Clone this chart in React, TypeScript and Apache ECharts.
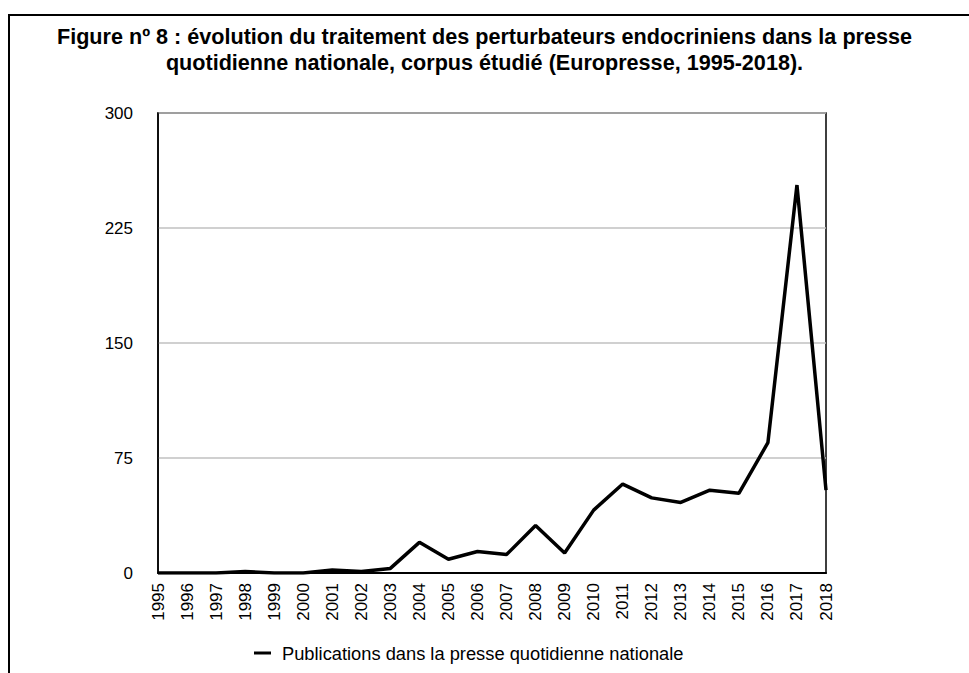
import React, { useEffect, useRef } from "react";
import * as echarts from "echarts";

const years = ["1995","1996","1997","1998","1999","2000","2001","2002","2003","2004","2005","2006","2007","2008","2009","2010","2011","2012","2013","2014","2015","2016","2017","2018"];
const publications = [0, 0, 0, 1, 0, 0, 2, 1, 3, 20, 9, 14, 12, 31, 13, 41, 58, 49, 46, 54, 52, 85, 253, 54];
const yTicks = [0, 75, 150, 225, 300];
const seriesName = "Publications dans la presse quotidienne nationale";
const titleLines = [
  "Figure nº 8 : évolution du traitement des perturbateurs endocriniens dans la presse",
  "quotidienne nationale, corpus étudié (Europresse, 1995-2018).",
];

const FONT = "'Liberation Sans', Arial, Helvetica, sans-serif";

export default function App() {
  const ref = useRef<HTMLDivElement>(null);
  useEffect(() => {
    if (!ref.current) return;
    const chart = echarts.init(ref.current, null, { renderer: "svg" });
    chart.setOption({
      animation: false,
      backgroundColor: "#fff",
      textStyle: { fontFamily: FONT },
      title: {
        text: titleLines.join("\n"),
        left: "center",
        top: 18,
        textStyle: { fontFamily: FONT, fontSize: 21.6, fontWeight: "bold", color: "#000", lineHeight: 26 },
      },
      graphic: [
        { type: "line", shape: { x1: 8, y1: 15, x2: 969, y2: 15 }, style: { stroke: "#000", lineWidth: 2 } },
        { type: "line", shape: { x1: 9, y1: 15, x2: 9, y2: 673 }, style: { stroke: "#000", lineWidth: 2 } },
      ],
      grid: { left: 158, right: 143, top: 113, bottom: 100, show: true, borderColor: "#000", borderWidth: 1.5 },
      legend: {
        left: 249,
        top: 639,
        icon: "rect",
        itemWidth: 17,
        itemHeight: 3,
        itemGap: 10,
        textStyle: { fontFamily: FONT, fontSize: 18.3, color: "#000", padding: [0, 0, 0, 6] },
        data: [seriesName],
      },
      xAxis: {
        type: "category",
        data: years,
        boundaryGap: false,
        axisLine: { show: true, lineStyle: { color: "#000", width: 2 } },
        axisTick: { show: false },
        axisLabel: { rotate: 90, margin: 10, fontSize: 17, color: "#000", fontFamily: FONT, interval: 0 },
        splitLine: { show: false },
      },
      yAxis: {
        type: "value",
        min: 0,
        max: 300,
        interval: 75,
        axisLine: { show: true, lineStyle: { color: "#000", width: 1.5 } },
        axisTick: { show: false },
        axisLabel: {
          margin: 25,
          fontSize: 17,
          color: "#000",
          fontFamily: FONT,
          customValues: yTicks,
        },
        splitLine: { show: true, lineStyle: { color: "#c0c0c0", width: 1.5 } },
      },
      series: [
        {
          name: seriesName,
          type: "line",
          data: publications,
          symbol: "none",
          lineStyle: { color: "#000", width: 3.5 },
          itemStyle: { color: "#000" },
        },
      ],
    });
    return () => chart.dispose();
  }, []);
  return <div ref={ref} style={{ position: "fixed", left: 0, top: 0, width: 969, height: 673 }} />;
}
